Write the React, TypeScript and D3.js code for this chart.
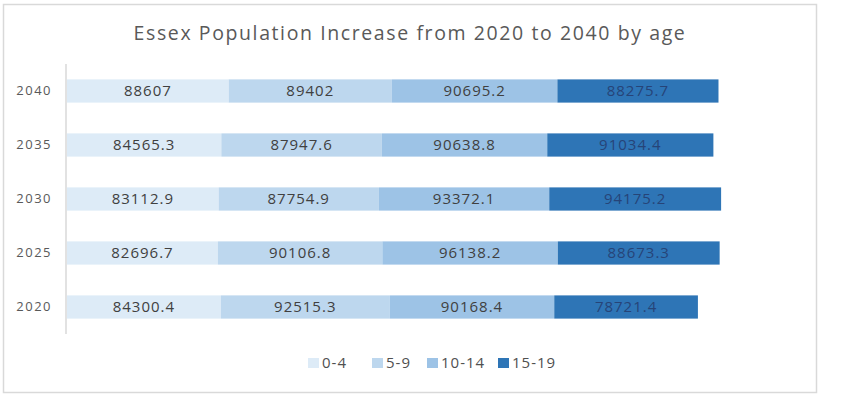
import React, { useEffect, useRef } from 'react';
import * as d3 from 'd3';

const years = ['2040', '2035', '2030', '2025', '2020'];
const ageGroups = ['0-4', '5-9', '10-14', '15-19'];
const colors = ['#DDEBF7', '#BDD7EE', '#9DC3E6', '#2E75B6'];
const age0to4 = [88607, 84565.3, 83112.9, 82696.7, 84300.4];
const age5to9 = [89402, 87947.6, 87754.9, 90106.8, 92515.3];
const age10to14 = [90695.2, 90638.8, 93372.1, 96138.2, 90168.4];
const age15to19 = [88275.7, 91034.4, 94175.2, 88673.3, 78721.4];

const width = 856;
const height = 399;

const App: React.FC = () => {
  const ref = useRef<SVGSVGElement>(null);

  useEffect(() => {
    const svg = d3.select(ref.current);
    svg.selectAll('*').remove();

    // outer frame
    svg.append('rect')
      .attr('x', 3.5).attr('y', 4.5)
      .attr('width', 813).attr('height', 388)
      .attr('fill', '#fff')
      .attr('stroke', '#d9d9d9')
      .attr('stroke-width', 1.5);

    svg.append('text')
      .attr('x', 410).attr('y', 40)
      .attr('text-anchor', 'middle')
      .attr('font-family', 'Open Sans, sans-serif')
      .attr('font-size', 19.5)
      .attr('letter-spacing', 1.6)
      .attr('fill', '#595959')
      .text('Essex Population Increase from 2020 to 2040 by age');

    const table = years.map((y, i) => ({
      year: y,
      '0-4': age0to4[i],
      '5-9': age5to9[i],
      '10-14': age10to14[i],
      '15-19': age15to19[i],
    }));

    const stack = d3.stack<any>().keys(ageGroups);
    const series = stack(table);

    const x = d3.scaleLinear().domain([0, 400000]).range([67, 797]);
    const y = d3.scaleBand().domain(years).range([64, 334]).paddingInner(0.57).paddingOuter(0.285);
    const color = d3.scaleOrdinal<string>().domain(ageGroups).range(colors);

    const groups = svg.append('g')
      .selectAll('g')
      .data(series)
      .join('g')
      .attr('fill', d => color(d.key));

    groups.selectAll('rect')
      .data(d => d)
      .join('rect')
      .attr('x', d => x(d[0]))
      .attr('y', d => y(d.data.year)!)
      .attr('width', d => x(d[1]) - x(d[0]))
      .attr('height', y.bandwidth());

    groups.selectAll('text')
      .data(d => d.map(v => ({ v, key: d.key })))
      .join('text')
      .attr('x', d => (x(d.v[0]) + x(d.v[1])) / 2)
      .attr('y', d => y(d.v.data.year)! + y.bandwidth() / 2)
      .attr('dy', '0.36em')
      .attr('text-anchor', 'middle')
      .attr('font-family', 'Open Sans, sans-serif')
      .attr('font-size', 15)
      .attr('letter-spacing', 1)
      .attr('fill', d => (d.key === '15-19' ? '#264478' : '#404040'))
      .text(d => String(+(d.v[1] - d.v[0]).toFixed(1)));

    // y axis
    const yAxis = svg.append('g')
      .attr('transform', 'translate(66,0)')
      .call(d3.axisLeft(y).tickSize(0).tickPadding(14));
    yAxis.select('.domain').attr('stroke', '#d9d9d9').attr('stroke-width', 1.5)
      .attr('d', 'M0,64V334');
    yAxis.selectAll('text')
      .attr('font-family', 'Open Sans, sans-serif')
      .attr('font-size', 13)
      .attr('letter-spacing', 1.5)
      .attr('fill', '#595959');

    // legend
    const legendX = [308, 372, 427, 498];
    const legend = svg.append('g')
      .selectAll('g')
      .data(ageGroups)
      .join('g')
      .attr('transform', (d, i) => `translate(${legendX[i]},358)`);
    legend.append('rect')
      .attr('width', 11).attr('height', 10)
      .attr('fill', d => color(d));
    legend.append('text')
      .attr('x', 14).attr('y', 5)
      .attr('dy', '0.36em')
      .attr('font-family', 'Open Sans, sans-serif')
      .attr('font-size', 15)
      .attr('letter-spacing', 1)
      .attr('fill', '#505050')
      .text(d => d);
  }, []);

  return (
    <svg ref={ref} width={width} height={height}
      style={{ position: 'absolute', left: 0, top: 0, background: '#fff' }} />
  );
};

export default App;
